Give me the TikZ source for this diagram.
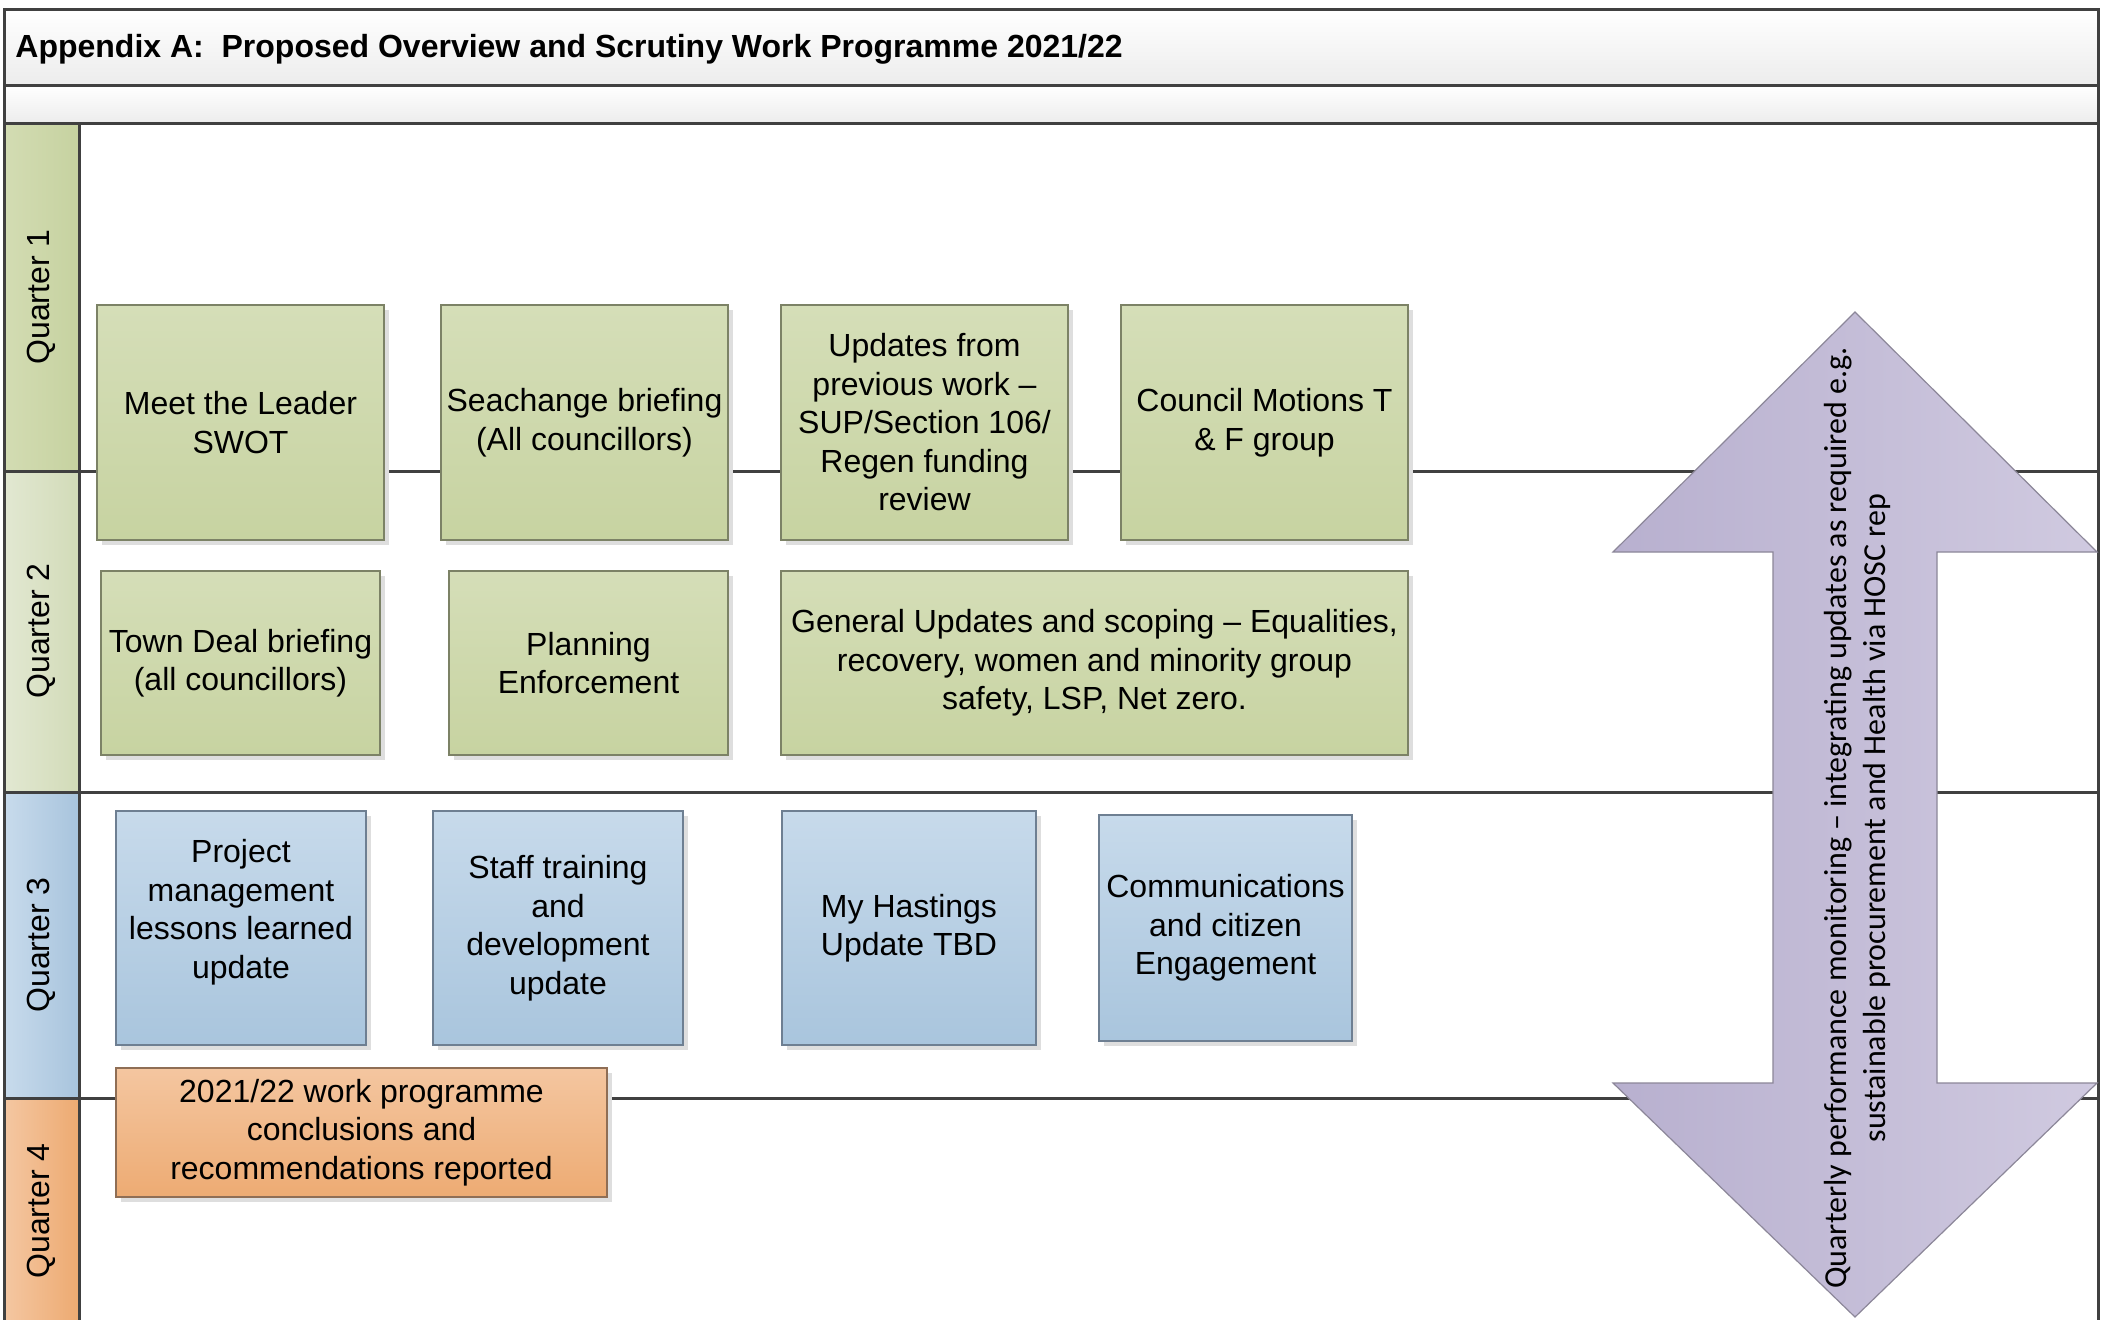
\documentclass[tikz,border=0pt]{standalone}
\usepackage{fontspec}
\setmainfont{Liberation Sans}
\newfontfamily\calibri{Carlito}
\usetikzlibrary{shadows}

\definecolor{frameline}{HTML}{404040}
\definecolor{bandlow}{HTML}{ECECEC}
\definecolor{greentop}{HTML}{D5DEB8}
\definecolor{greenbot}{HTML}{C7D3A1}
\definecolor{greenedge}{HTML}{7C8266}
\definecolor{bluetop}{HTML}{C7DAEB}
\definecolor{bluebot}{HTML}{A9C5DD}
\definecolor{blueedge}{HTML}{6E7F92}
\definecolor{orangetop}{HTML}{F4C6A0}
\definecolor{orangebot}{HTML}{EDAB73}
\definecolor{orangeedge}{HTML}{8F6E55}
\definecolor{qonel}{HTML}{D3DCB3}
\definecolor{qoner}{HTML}{C6D2A0}
\definecolor{qtwol}{HTML}{E2E8D2}
\definecolor{qtwor}{HTML}{D2DBB8}
\definecolor{qthreel}{HTML}{C8DBEC}
\definecolor{qthreer}{HTML}{A8C4DD}
\definecolor{qfourl}{HTML}{F4C7A2}
\definecolor{qfourr}{HTML}{EDAA71}
\definecolor{arrowl}{HTML}{B8B0CF}
\definecolor{arrowr}{HTML}{D0CAE0}
\definecolor{arrowedge}{HTML}{8C8799}

\tikzset{
  rule/.style={draw=frameline, line width=1.5pt},
  lanelabel/.style={rotate=90, font=\fontsize{16}{19.25}\selectfont},
  taskbox/.style={inner sep=0pt, align=center, line width=0.8pt,
    font=\fontsize{16}{19.25}\selectfont,
    general shadow={fill=black!13, shadow xshift=2.5pt, shadow yshift=-2.5pt}},
  greenbox/.style={taskbox, draw=greenedge, top color=greentop, bottom color=greenbot},
  bluebox/.style={taskbox, draw=blueedge, top color=bluetop, bottom color=bluebot},
  orangebox/.style={taskbox, draw=orangeedge, top color=orangetop, bottom color=orangebot},
}

\begin{document}
\begin{tikzpicture}[x=0.5pt,y=-0.5pt]
\useasboundingbox (0,0) rectangle (2115,1319);
\clip (0,0) rectangle (2115,1319);
\fill[white] (0,0) rectangle (2115,1319);

% header bands
\shade[top color=white, bottom color=bandlow] (4,9) rectangle (2098,85);
\shade[top color=white, bottom color=bandlow] (4,85) rectangle (2098,123);

% quarter label cells
\shade[left color=qonel, right color=qoner] (4,123) rectangle (79,471);
\shade[left color=qtwol, right color=qtwor] (4,471) rectangle (79,792);
\shade[left color=qthreel, right color=qthreer] (4,792) rectangle (79,1098);
\shade[left color=qfourl, right color=qfourr] (4,1098) rectangle (79,1330);

% frame and lane rules
\draw[rule] (4,1330) -- (4,9) -- (2098,9) -- (2098,1330);
\draw[rule] (4,85) -- (2098,85);
\draw[rule] (4,123) -- (2098,123);
\draw[rule] (79,123) -- (79,1330);
\draw[rule] (4,471) -- (2098,471);
\draw[rule] (4,792) -- (2098,792);
\draw[rule] (4,1098) -- (2098,1098);

% title
\node[anchor=west, font=\bfseries\fontsize{16}{19.25}\selectfont, inner sep=0pt]
  (title) at (15,49) {Appendix A:\ \ Proposed Overview and Scrutiny Work Programme 2021/22};

% quarter labels
\node[lanelabel] (q1) at (41,297) {Quarter 1};
\node[lanelabel] (q2) at (41,631) {Quarter 2};
\node[lanelabel] (q3) at (41,945) {Quarter 3};
\node[lanelabel] (q4) at (41,1211) {Quarter 4};

% quarter 1 items
\node[greenbox, minimum width=143.5pt, minimum height=117.5pt] (leader) at (240.5,422.5)
  {Meet the Leader\\SWOT};
\node[greenbox, minimum width=143.5pt, minimum height=117.5pt] (seachange) at (584.5,422.5)
  {Seachange briefing\\(All councillors)};
\node[greenbox, minimum width=143.5pt, minimum height=117.5pt] (updates) at (924.5,422.5)
  {Updates from\\previous work –\\SUP/Section 106/\\Regen funding\\review};
\node[greenbox, minimum width=143.5pt, minimum height=117.5pt] (motions) at (1264.5,422.5)
  {Council Motions T\\\& F group};

% quarter 2 items
\node[greenbox, minimum width=139.5pt, minimum height=92pt] (towndeal) at (240.5,663)
  {Town Deal briefing\\(all councillors)};
\node[greenbox, minimum width=139.5pt, minimum height=92pt] (planning) at (588.5,663)
  {Planning\\Enforcement};
\node[greenbox, minimum width=313.5pt, minimum height=92pt] (general) at (1094.5,663)
  {General Updates and scoping – Equalities,\\recovery, women and minority group\\safety, LSP, Net zero.};

% quarter 3 items
\node[bluebox, minimum width=125pt, minimum height=117pt] (project) at (241,928)
  {Project\\management\\lessons learned\\update\\\mbox{}};
\node[bluebox, minimum width=125pt, minimum height=117pt] (staff) at (558,928)
  {Staff training\\and\\development\\update};
\node[bluebox, minimum width=127pt, minimum height=117pt] (hastings) at (909,928)
  {My Hastings\\Update TBD};
\node[bluebox, minimum width=126.5pt, minimum height=113pt] (comms) at (1225.5,928)
  {Communications\\and citizen\\Engagement};

% year-end item
\node[orangebox, minimum width=245.5pt, minimum height=64.5pt] (final) at (361.5,1132.5)
  {2021/22 work programme\\conclusions and\\recommendations reported};

% two-headed monitoring arrow
\shade[left color=arrowl, right color=arrowr, draw=arrowedge, line width=0.6pt]
  (1855,312) -- (2097,552) -- (1937,552) -- (1937,1083) -- (2097,1083)
  -- (1855,1317) -- (1613,1083) -- (1773,1083) -- (1773,552) -- (1613,552) -- cycle;
\node[rotate=90, align=center, font=\calibri\fontsize{16}{19.5}\selectfont, inner sep=0pt]
  (monitor) at (1857,818)
  {Quarterly performance monitoring – integrating updates as required e.g.\\
   sustainable procurement and Health via HOSC rep};
\end{tikzpicture}
\end{document}
